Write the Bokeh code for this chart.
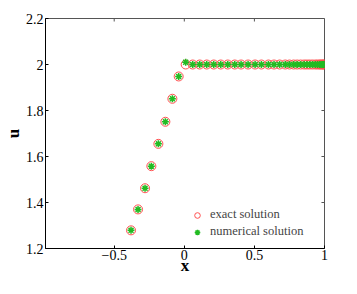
from bokeh.plotting import figure
from bokeh.models import FixedTicker, Legend, LegendItem, Range1d
from bokeh.embed import file_html
from bokeh.resources import INLINE

# data
x_exact = [-0.38, -0.33, -0.28, -0.235, -0.185, -0.135, -0.085, -0.04,
           0.01, 0.06, 0.11, 0.16, 0.21, 0.26, 0.31, 0.36, 0.405, 0.455, 0.505,
           0.55, 0.6, 0.64, 0.68, 0.72, 0.75, 0.78, 0.805, 0.83, 0.855, 0.875,
           0.895, 0.915, 0.935, 0.95, 0.965, 0.975, 0.985, 0.993, 1.0]
u_exact = [1.279, 1.37, 1.462, 1.558, 1.655, 1.751, 1.851, 1.948,
           2.0, 2.0, 2.0, 2.0, 2.0, 2.0, 2.0, 2.0, 2.0, 2.0, 2.0,
           2.0, 2.0, 2.0, 2.0, 2.0, 2.0, 2.0, 2.0, 2.0, 2.0, 2.0,
           2.0, 2.0, 2.0, 2.0, 2.0, 2.0, 2.0, 2.0, 2.0]
x_num = list(x_exact)
u_num = [1.279, 1.37, 1.462, 1.558, 1.655, 1.751, 1.851, 1.948,
         2.01, 2.0, 2.0, 2.0, 2.0, 2.0, 2.0, 2.0, 2.0, 2.0, 2.0,
         2.0, 2.0, 2.0, 2.0, 2.0, 2.0, 2.0, 2.0, 2.0, 2.0, 2.0,
         2.0, 2.0, 2.0, 2.0, 2.0, 2.0, 2.0, 2.0, 2.0]
x_ticks = [-0.5, 0, 0.5, 1]
y_ticks = [1.2, 1.4, 1.6, 1.8, 2.0, 2.2]
x_tick_labels = {-0.5: "\u22120.5", 0: "0", 0.5: "0.5", 1: "1"}
y_tick_labels = {1.2: "1.2", 1.4: "1.4", 1.6: "1.6", 1.8: "1.8", 2.0: "2", 2.2: "2.2"}

FONT = "Liberation Serif"
X0, X1, Y0, Y1 = -0.99, 1.0, 1.2, 2.2

p = figure(width=341, height=278, output_backend="svg", toolbar_location=None,
           x_range=Range1d(X0, X1), y_range=Range1d(Y0, Y1),
           x_axis_label="x", y_axis_label="u")
p.min_border_left = 38
p.min_border_top = 18
p.min_border_right = 17
p.min_border_bottom = 30
p.xgrid.visible = False
p.ygrid.visible = False
p.outline_line_color = "#555555"
p.outline_line_width = 1
p.background_fill_color = "white"
p.border_fill_color = "white"

for ax, ticks, labels in ((p.xaxis[0], x_ticks, x_tick_labels), (p.yaxis[0], y_ticks, y_tick_labels)):
    ax.ticker = FixedTicker(ticks=ticks)
    ax.major_label_overrides = labels
    ax.major_tick_in = 3
    ax.major_tick_out = 0
    ax.minor_tick_in = 0
    ax.minor_tick_out = 0
    ax.axis_line_color = "black"
    ax.major_tick_line_color = "black"
    ax.major_label_text_font = FONT
    ax.major_label_text_font_size = "14px"
    ax.major_label_text_color = "black"
    ax.axis_label_text_font = FONT
    ax.axis_label_text_font_size = "17px"
    ax.axis_label_text_font_style = "bold"
    ax.axis_label_text_color = "black"
    ax.major_label_standoff = 2
    ax.axis_label_standoff = 0
p.xaxis[0].major_label_standoff = 1
p.xaxis[0].axis_label_standoff = -7

# box ticks on top and right edges (3px long)
dx = 3 / 275 * (X1 - X0)
dy = 3 / 229 * (Y1 - Y0)
p.segment(x0=x_ticks, y0=[Y1] * len(x_ticks), x1=x_ticks, y1=[Y1 - dy] * len(x_ticks),
          line_color="#555555", line_width=1)
p.segment(x0=[X1] * len(y_ticks), y0=y_ticks, x1=[X1 - dx] * len(y_ticks), y1=y_ticks,
          line_color="#555555", line_width=1)

r_exact = p.scatter(x_exact, u_exact, marker="circle", size=9, fill_color=None,
                    line_color="#ff5050", line_width=1)
r_num = p.scatter(x_num, u_num, marker="asterisk", size=7,
                  line_color="#22bb22", line_width=1.5)

legend = Legend(items=[LegendItem(label="exact solution", renderers=[r_exact]),
                       LegendItem(label="numerical solution", renderers=[r_num])],
                location=(145, 9), border_line_color=None, background_fill_alpha=0,
                label_text_font=FONT, label_text_font_size="12.5px",
                glyph_width=14, glyph_height=14, spacing=2, padding=4,
                label_standoff=6, margin=0)
p.add_layout(legend, "center")

open("out.html", "w").write(file_html(p, INLINE))
